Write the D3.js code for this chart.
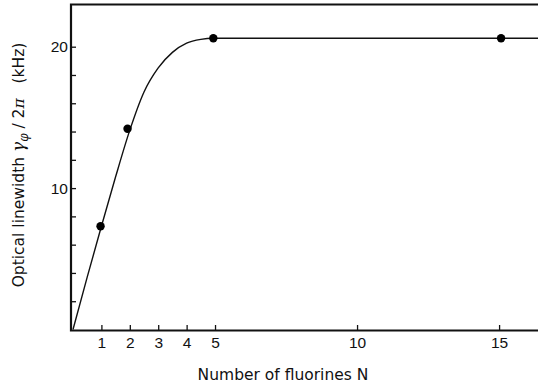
<!DOCTYPE html>
<html>
<head>
<meta charset="utf-8">
<script src="https://cdn.jsdelivr.net/npm/d3@7"></script>
<style>
  body { margin: 0; background: #fff; }
  svg { display: block; font-family: "DejaVu Sans", Verdana, sans-serif; }
</style>
</head>
<body>
<div id="chart"></div>
<script>
// measured points (N, linewidth kHz)
const pointN = [0.97, 1.92, 4.94, 15.07];
const pointW = [7.3, 14.2, 20.6, 20.6];

// smooth curve drawn through the data
const curveN = [0, 0.5, 1, 1.5, 2, 2.5, 3, 3.5, 4, 4.5, 4.94, 15.07, 16.4];
const curveW = [0, 3.7, 7.3, 10.8, 14.1, 16.8, 18.5, 19.6, 20.25, 20.52, 20.6, 20.6, 20.6];

const xTicks = [1, 2, 3, 4, 5, 10, 15];
const yTicks = [2, 4, 6, 8, 10, 12, 14, 16, 18, 20];
const yLabelled = [10, 20];

const width = 538, height = 385;
const fs = 15.5;

const svg = d3.select("#chart").append("svg")
    .attr("width", width)
    .attr("height", height);

const x = d3.scaleLinear().domain([0, 16.37]).range([73, 538]);
const y = d3.scaleLinear().domain([0, 20]).range([329.5, 46.7]);

// y axis (ticks inward)
svg.append("g")
    .attr("transform", "translate(71,0)")
    .call(d3.axisLeft(y)
        .tickValues(yTicks)
        .tickSizeInner(-5)
        .tickSizeOuter(0)
        .tickPadding(3)
        .tickFormat(d => yLabelled.includes(d) ? d : ""))
    .call(g => g.select(".domain").remove())
    .call(g => g.selectAll("line").attr("stroke", "#111").attr("stroke-width", 1.3))
    .call(g => g.selectAll("text").attr("fill", "#111").attr("font-size", fs));

// x axis (ticks inward)
svg.append("g")
    .attr("transform", "translate(0,330)")
    .call(d3.axisBottom(x)
        .tickValues(xTicks)
        .tickSizeInner(-5)
        .tickSizeOuter(0)
        .tickPadding(7))
    .call(g => g.select(".domain").remove())
    .call(g => g.selectAll("line").attr("stroke", "#111").attr("stroke-width", 1.3))
    .call(g => g.selectAll("text").attr("fill", "#111").attr("font-size", fs));

// frame
svg.append("path")
    .attr("d", `M538,4.5H71V330.5H538`)
    .attr("fill", "none")
    .attr("stroke", "#111")
    .attr("stroke-width", 2.2);

// curve
const curveData = curveN.map((n, i) => ({ n, w: curveW[i] }));
svg.append("path")
    .datum(curveData)
    .attr("d", d3.line().x(d => x(d.n)).y(d => y(d.w)).curve(d3.curveMonotoneX))
    .attr("fill", "none")
    .attr("stroke", "#111")
    .attr("stroke-width", 1.4);

// dots
const points = pointN.map((n, i) => ({ n, w: pointW[i] }));
svg.selectAll("circle.pt")
    .data(points)
    .join("circle")
    .attr("class", "pt")
    .attr("cx", d => x(d.n))
    .attr("cy", d => y(d.w))
    .attr("r", 4.2)
    .attr("fill", "#000");

// axis titles
svg.append("text")
    .attr("x", 283)
    .attr("y", 380)
    .attr("text-anchor", "middle")
    .attr("font-size", fs)
    .attr("fill", "#111")
    .text("Number of fluorines N");

const yt = svg.append("text")
    .attr("transform", "translate(24,165) rotate(-90)")
    .attr("text-anchor", "middle")
    .attr("font-size", fs)
    .attr("fill", "#111")
    .attr("xml:space", "preserve")
    .style("white-space", "pre");
yt.append("tspan").text("Optical linewidth ");
yt.append("tspan").attr("font-style", "italic").attr("font-family", "DejaVu Serif, serif")
    .attr("font-size", 17).text("γ");
yt.append("tspan").attr("font-style", "italic").attr("font-family", "DejaVu Serif, serif")
    .attr("font-size", 12).attr("dy", 4).text("φ");
yt.append("tspan").attr("dy", -4).text(" / 2");
yt.append("tspan").attr("font-style", "italic").attr("font-family", "DejaVu Serif, serif").text("π");
yt.append("tspan").text("   (kHz)");
</script>
</body>
</html>
